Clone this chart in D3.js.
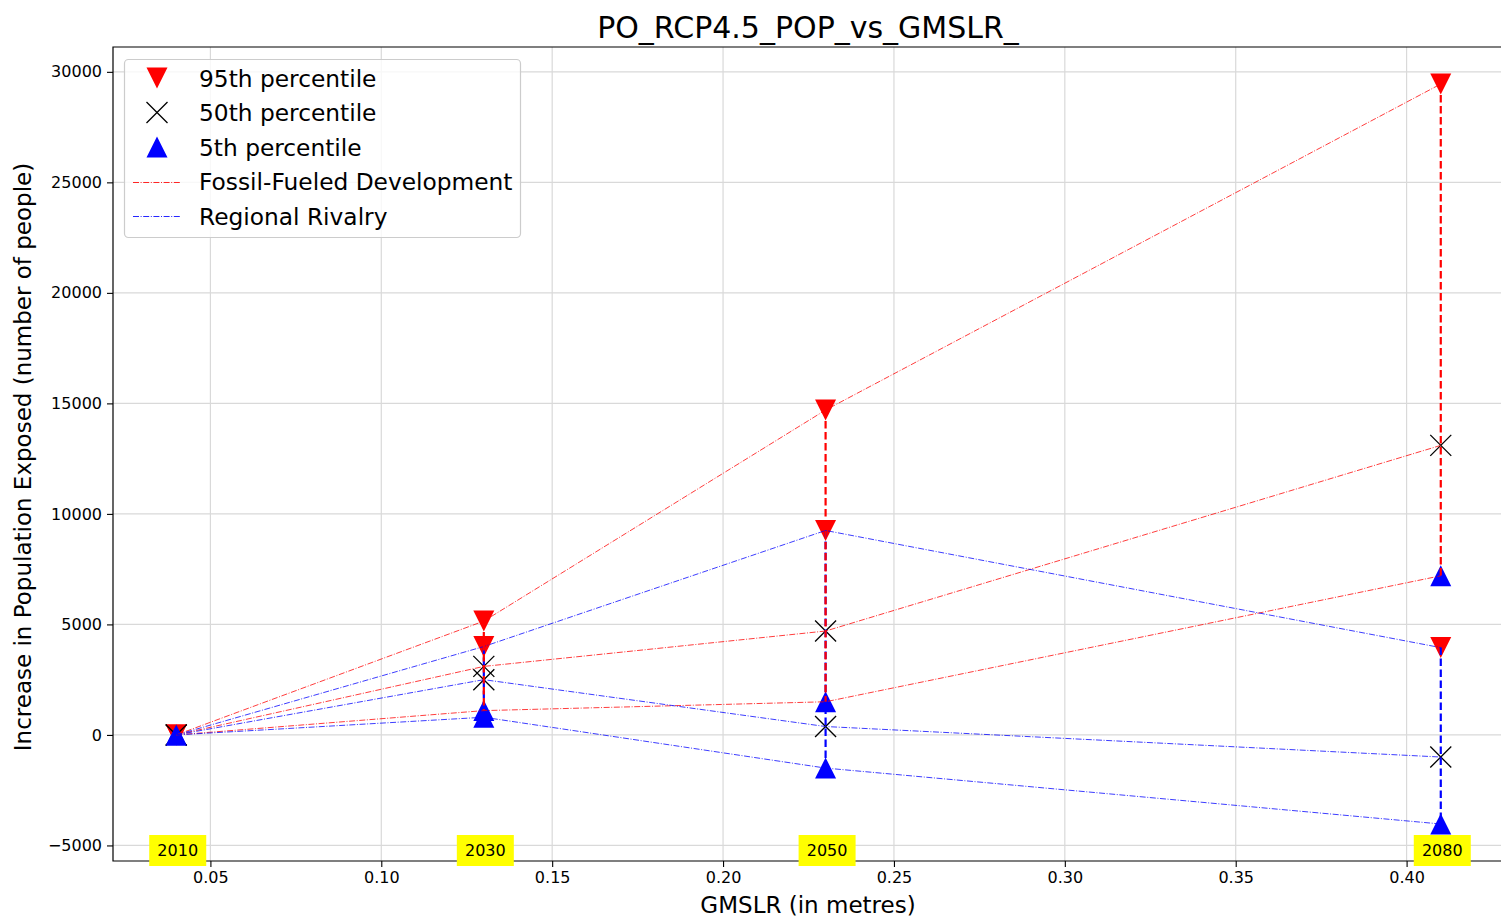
<!DOCTYPE html>
<html>
<head>
<meta charset="utf-8">
<script src="https://cdn.jsdelivr.net/npm/d3@7"></script>
<style>
  body { margin: 0; background: #fff; }
  svg { font-family: "DejaVu Sans", sans-serif; }
</style>
</head>
<body>
<svg id="chart" width="1501" height="917"></svg>
<script>
// data
const years = ['2010', '2030', '2050', '2080'];
const gmslr = [0.04, 0.13, 0.23, 0.41];
const ff95 = [0, 5150, 14700, 29450];
const ff50 = [0, 3100, 4700, 13100];
const ff5 = [0, 1100, 1500, 7200];
const rr95 = [0, 4000, 9250, 3950];
const rr50 = [0, 2500, 380, -1000];
const rr5 = [0, 800, -1500, -4030];
const xTicks = [0.05, 0.10, 0.15, 0.20, 0.25, 0.30, 0.35, 0.40];
const yTicks = [-5000, 0, 5000, 10000, 15000, 20000, 25000, 30000];

const scenarios = [
  {name: 'Fossil-Fueled Development', color: 'red', p95: ff95, p50: ff50, p5: ff5},
  {name: 'Regional Rivalry', color: 'blue', p95: rr95, p50: rr50, p5: rr5}
];

const margin = {left: 113, top: 47, right: 1504, bottom: 861};
const svg = d3.select('#chart');

// matplotlib-like 5% padding
function padded(ext) {
  const d = (ext[1] - ext[0]) * 0.05;
  return [ext[0] - d, ext[1] + d];
}
const allY = [].concat(ff95, ff50, ff5, rr95, rr50, rr5);
const x = d3.scaleLinear().domain(padded(d3.extent(gmslr))).range([margin.left, margin.right]);
const y = d3.scaleLinear().domain(padded(d3.extent(allY))).range([margin.bottom, margin.top]);

const plot = svg.append('g');
plot.append('defs').append('clipPath').attr('id', 'clip')
  .append('rect').attr('x', margin.left).attr('y', margin.top)
  .attr('width', margin.right - margin.left).attr('height', margin.bottom - margin.top);

// grid
const grid = plot.append('g').attr('stroke', '#d9d9d9').attr('stroke-width', 1.2);
grid.selectAll('.gx').data(xTicks).enter().append('line')
  .attr('x1', d => x(d)).attr('x2', d => x(d))
  .attr('y1', margin.top).attr('y2', margin.bottom);
grid.selectAll('.gy').data(yTicks).enter().append('line')
  .attr('x1', margin.left).attr('x2', margin.right)
  .attr('y1', d => y(d)).attr('y2', d => y(d));

// axes
const xAxis = d3.axisBottom(x).tickValues(xTicks).tickFormat(d3.format('.2f')).tickSize(6).tickPadding(5);
const yAxis = d3.axisLeft(y).tickValues(yTicks).tickFormat(d => d < 0 ? '\u2212' + Math.abs(d) : d).tickSize(6).tickPadding(5);
const gx = svg.append('g').attr('transform', `translate(0,${margin.bottom})`).call(xAxis);
const gy = svg.append('g').attr('transform', `translate(${margin.left},0)`).call(yAxis);
[gx, gy].forEach(g => {
  g.select('.domain').remove();
  g.selectAll('text').attr('font-size', 16).attr('fill', '#000').attr('font-family', '"DejaVu Sans", sans-serif');
  g.selectAll('line').attr('stroke', '#000').attr('stroke-width', 1.1);
});

const content = svg.append('g').attr('clip-path', 'url(#clip)');

const triDown = 'M-10.5,-10.5 L10.5,-10.5 L0,10.5 Z';
const triUp = 'M-10.5,10.5 L10.5,10.5 L0,-10.5 Z';
const cross = 'M-10.5,-10.5 L10.5,10.5 M-10.5,10.5 L10.5,-10.5';

// markers
scenarios.forEach(s => {
  const idx = d3.range(gmslr.length);
  content.selectAll(null).data(idx).enter().append('path')
    .attr('transform', i => `translate(${x(gmslr[i])},${y(s.p95[i])})`)
    .attr('d', triDown).attr('fill', 'red');
  content.selectAll(null).data(idx).enter().append('path')
    .attr('transform', i => `translate(${x(gmslr[i])},${y(s.p50[i])})`)
    .attr('d', cross).attr('fill', 'none').attr('stroke', '#000').attr('stroke-width', 1.3);
  content.selectAll(null).data(idx).enter().append('path')
    .attr('transform', i => `translate(${x(gmslr[i])},${y(s.p5[i])})`)
    .attr('d', triUp).attr('fill', 'blue');
});

// dash-dot connecting lines
const line = d3.line().x(d => x(d[0])).y(d => y(d[1]));
scenarios.forEach(s => {
  [s.p95, s.p50, s.p5].forEach(vals => {
    content.append('path')
      .attr('d', line(gmslr.map((g, i) => [g, vals[i]])))
      .attr('fill', 'none').attr('stroke', s.color).attr('stroke-width', 0.9)
      .attr('stroke-opacity', 0.85)
      .attr('stroke-dasharray', '6,1.6,1,1.6');
  });
});

// vertical dashed ranges, blue under red
[scenarios[1], scenarios[0]].forEach(s => {
  gmslr.forEach((g, i) => {
    content.append('line')
      .attr('x1', x(g)).attr('x2', x(g))
      .attr('y1', y(s.p95[i])).attr('y2', y(s.p5[i]))
      .attr('stroke', s.color).attr('stroke-width', 2.2)
      .attr('stroke-dasharray', '7.5,3.5');
  });
});

// spines
svg.append('path')
  .attr('d', `M${margin.right},${margin.top} L${margin.left},${margin.top} L${margin.left},${margin.bottom} L${margin.right},${margin.bottom}`)
  .attr('fill', 'none').attr('stroke', '#000').attr('stroke-width', 1.2);

// year labels
const yl = svg.append('g');
years.forEach((yr, i) => {
  const cx = x(gmslr[i]) + 1.5;
  yl.append('rect').attr('x', cx - 28.5).attr('y', 835).attr('width', 57).attr('height', 31).attr('fill', '#ffff00');
  yl.append('text').attr('x', cx).attr('y', 856).attr('text-anchor', 'middle')
    .attr('font-size', 16).text(yr);
});

// title and labels
svg.append('text').attr('x', 808).attr('y', 38).attr('text-anchor', 'middle')
  .attr('font-size', 30).text('PO_RCP4.5_POP_vs_GMSLR_');
svg.append('text').attr('x', 808).attr('y', 913).attr('text-anchor', 'middle')
  .attr('font-size', 23).text('GMSLR (in metres)');
svg.append('text').attr('transform', 'translate(31,457) rotate(-90)').attr('text-anchor', 'middle')
  .attr('font-size', 23).text('Increase in Population Exposed (number of people)');

// legend
const legendItems = [
  {label: '95th percentile', type: 'down'},
  {label: '50th percentile', type: 'x'},
  {label: '5th percentile', type: 'up'},
  {label: 'Fossil-Fueled Development', type: 'line', color: '#ff0000'},
  {label: 'Regional Rivalry', type: 'line', color: '#0000ff'}
];
const lg = svg.append('g');
lg.append('rect').attr('x', 124.5).attr('y', 59.5).attr('width', 396).attr('height', 178).attr('rx', 4)
  .attr('fill', '#fff').attr('fill-opacity', 0.8).attr('stroke', '#cccccc').attr('stroke-width', 1.2);
legendItems.forEach((it, i) => {
  const cy = 78 + i * 34.5;
  if (it.type === 'line') {
    lg.append('line').attr('x1', 133).attr('x2', 181).attr('y1', Math.round(cy) + 0.5).attr('y2', Math.round(cy) + 0.5)
      .attr('stroke', it.color).attr('stroke-width', 1).attr('stroke-opacity', 0.85)
      .attr('stroke-dasharray', '6,1.6,1,1.6');
  } else {
    lg.append('path').attr('transform', `translate(157,${cy})`)
      .attr('d', it.type === 'down' ? triDown : it.type === 'up' ? triUp : cross)
      .attr('fill', it.type === 'down' ? 'red' : it.type === 'up' ? 'blue' : 'none')
      .attr('stroke', it.type === 'x' ? '#000' : 'none').attr('stroke-width', 1.3);
  }
  lg.append('text').attr('x', 199).attr('y', cy + 8.5).attr('font-size', 23.3).text(it.label);
});
</script>
</body>
</html>
